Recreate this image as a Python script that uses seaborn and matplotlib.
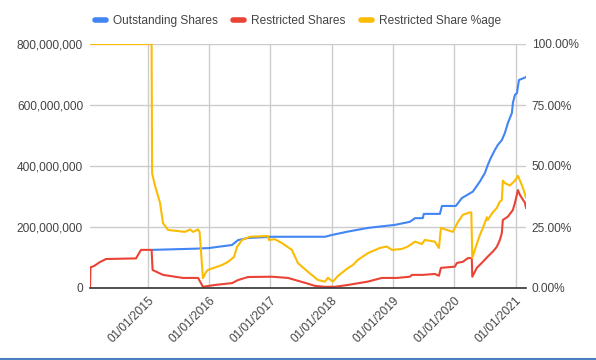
import matplotlib
matplotlib.use("Agg")
import matplotlib.pyplot as plt
import matplotlib.dates as mdates
from matplotlib.lines import Line2D
from matplotlib.ticker import FuncFormatter, MultipleLocator
import pandas as pd
import seaborn as sns

BLUE = "#4285F4"
RED = "#EA4335"
YELLOW = "#FBBC04"
TEXT = "#444444"

# Outstanding shares (millions)
outstanding_dates = [
    "2015-01-27", "2015-10-16", "2016-01-01", "2016-05-17", "2016-06-22",
    "2016-08-20", "2017-01-10", "2017-11-22", "2018-01-03", "2018-04-08",
    "2018-08-05", "2019-01-13", "2019-04-12", "2019-05-13", "2019-06-28",
    "2019-07-04", "2019-10-08", "2019-10-20", "2020-01-11", "2020-02-16",
    "2020-04-21", "2020-06-02", "2020-07-02", "2020-07-19", "2020-08-06",
    "2020-08-30", "2020-09-17", "2020-10-11", "2020-10-29", "2020-11-16",
    "2020-12-10", "2020-12-16", "2020-12-28", "2021-01-09", "2021-01-21",
    "2021-02-26", "2021-03-04",
]
outstanding_shares = [
    125, 129, 131, 141, 157,
    164, 168, 168, 174, 185,
    197, 207, 217, 229, 229,
    243, 243, 269, 269, 295,
    316, 349, 377, 403, 426,
    452, 469, 485, 508, 541,
    574, 607, 633, 639, 682,
    690, 692,
]

# Restricted shares (millions)
restricted_dates = [
    "2014-01-22", "2014-01-25", "2014-02-15", "2014-03-22", "2014-04-27",
    "2014-07-20", "2014-10-23", "2014-11-22", "2015-01-24", "2015-01-30",
    "2015-04-02", "2015-07-30", "2015-10-28", "2015-11-26", "2016-02-06",
    "2016-05-17", "2016-06-22", "2016-08-20", "2017-01-10", "2017-04-16",
    "2017-07-26", "2017-09-23", "2017-11-22", "2018-01-20", "2018-04-08",
    "2018-08-05", "2018-10-27", "2019-01-25", "2019-04-12", "2019-04-24",
    "2019-06-28", "2019-09-08", "2019-10-02", "2019-10-14", "2020-01-05",
    "2020-01-17", "2020-02-22", "2020-03-23", "2020-04-15", "2020-04-18",
    "2020-05-15", "2020-06-20", "2020-07-19", "2020-08-18", "2020-09-11",
    "2020-09-29", "2020-10-11", "2020-10-17", "2020-11-16", "2020-12-16",
    "2020-12-28", "2021-01-15", "2021-01-27", "2021-02-26", "2021-03-04",
]
restricted_shares = [
    0, 68, 72, 85, 95,
    96, 97, 125, 125, 59,
    43, 33, 33, 4, 10,
    16, 26, 36, 37, 33,
    17, 7, 4, 4, 10,
    21, 33, 33, 37, 43,
    43, 46, 40, 66, 70,
    82, 86, 98, 98, 37,
    66, 86, 103, 119, 135,
    157, 180, 223, 234, 256,
    279, 321, 305, 279, 262,
]

# Restricted share percentage
pct_dates = [
    "2014-01-22", "2015-01-24", "2015-01-27", "2015-02-13", "2015-03-15",
    "2015-04-02", "2015-05-02", "2015-08-11", "2015-09-10", "2015-09-28",
    "2015-10-28", "2015-11-06", "2015-11-26", "2015-12-14", "2015-12-26",
    "2016-03-18", "2016-04-23", "2016-05-29", "2016-06-16", "2016-07-16",
    "2016-09-01", "2016-12-17", "2016-12-23", "2017-01-28", "2017-03-11",
    "2017-05-09", "2017-06-14", "2017-08-13", "2017-10-11", "2017-11-22",
    "2017-12-10", "2018-01-08", "2018-02-07", "2018-04-08", "2018-05-07",
    "2018-06-06", "2018-08-05", "2018-10-15", "2018-11-26", "2018-12-26",
    "2019-02-23", "2019-03-31", "2019-05-13", "2019-06-22", "2019-07-10",
    "2019-09-08", "2019-10-02", "2019-10-14", "2019-12-24", "2020-01-23",
    "2020-02-22", "2020-04-03", "2020-04-12", "2020-04-18", "2020-05-03",
    "2020-06-02", "2020-06-20", "2020-07-14", "2020-07-19", "2020-08-18",
    "2020-09-11", "2020-09-29", "2020-10-11", "2020-10-17", "2020-10-29",
    "2020-11-28", "2020-12-28", "2021-01-15", "2021-01-27", "2021-02-14",
    "2021-03-04",
]
restricted_pct = [
    100, 100, 47, 42, 35,
    26.6, 23.8, 23, 24, 23,
    24, 23, 4, 6.5, 7.4,
    9.4, 10.7, 12.7, 16.8, 19.7,
    21, 21.3, 19.7, 20, 18.4,
    15.6, 10.2, 6.6, 3.3, 2.6,
    4.2, 2.6, 4.9, 8.2, 9.4,
    11.5, 14.3, 16.4, 17, 15.6,
    16, 17, 19, 18, 19.7,
    19, 16.4, 24.6, 23, 27,
    30, 31, 31, 12.3, 15.6,
    21.7, 24.6, 29, 27.9, 31,
    32.8, 35.4, 36, 44, 43,
    42, 44, 46, 44, 41,
    37,
]

shares_df = pd.concat([
    pd.DataFrame({"date": pd.to_datetime(outstanding_dates),
                  "shares": [v * 1e6 for v in outstanding_shares],
                  "series": "Outstanding Shares"}),
    pd.DataFrame({"date": pd.to_datetime(restricted_dates),
                  "shares": [v * 1e6 for v in restricted_shares],
                  "series": "Restricted Shares"}),
])
pct_df = pd.DataFrame({"date": pd.to_datetime(pct_dates),
                       "pct": [v / 100 for v in restricted_pct]})

sns.set_style("white")
plt.rcParams["font.family"] = ["Liberation Sans", "DejaVu Sans"]

fig = plt.figure(figsize=(5.96, 3.6), dpi=100)
ax = fig.add_axes([90 / 596, 1 - 288 / 360, 436 / 596, 244 / 360])

sns.lineplot(data=shares_df, x="date", y="shares", hue="series",
             palette=[BLUE, RED], estimator=None, sort=False,
             linewidth=1.5, legend=False, ax=ax)
ax2 = ax.twinx()
sns.lineplot(data=pct_df, x="date", y="pct", color=YELLOW,
             estimator=None, sort=False, linewidth=1.5, ax=ax2)

ax.set_xlim(pd.Timestamp("2014-01-22"), pd.Timestamp("2021-03-04"))
ax.set_ylim(0, 800e6)
ax2.set_ylim(0, 1)
ax.yaxis.set_major_locator(MultipleLocator(200e6))
ax2.yaxis.set_major_locator(MultipleLocator(0.25))
ax.yaxis.set_major_formatter(FuncFormatter(lambda v, _: f"{v:,.0f}"))
ax2.yaxis.set_major_formatter(FuncFormatter(lambda v, _: f"{v * 100:.2f}%"))
ax.xaxis.set_major_locator(mdates.YearLocator())
ax.xaxis.set_major_formatter(mdates.DateFormatter("%m/%d/%Y"))

ax.grid(True, color="#cccccc", linewidth=1)
ax.set_axisbelow(True)
for a in (ax, ax2):
    a.set(xlabel=None, ylabel=None)
    for side in ("top", "left", "right", "bottom"):
        a.spines[side].set_visible(False)
ax.spines["bottom"].set_visible(True)
ax.spines["bottom"].set_color("#333333")
ax.spines["bottom"].set_linewidth(1.2)

ax.tick_params(axis="y", length=0, pad=5, labelsize=8.6, labelcolor=TEXT)
ax2.tick_params(axis="y", length=0, pad=4, labelsize=8.6, labelcolor=TEXT)
ax.tick_params(axis="x", length=0, pad=5, labelsize=8.6, labelcolor=TEXT)
for lbl in ax.get_xticklabels():
    lbl.set_rotation(45)
    lbl.set_ha("right")
    lbl.set_rotation_mode("anchor")

handles = [
    Line2D([], [], color=BLUE, linewidth=4),
    Line2D([], [], color=RED, linewidth=4),
    Line2D([], [], color=YELLOW, linewidth=4),
]
fig.legend(handles, ["Outstanding Shares", "Restricted Shares", "Restricted Share %age"],
           loc="center", bbox_to_anchor=(0.5, 1 - 21 / 360), ncol=3,
           frameon=False, fontsize=8.6, handlelength=0.9, handletextpad=0.6,
           columnspacing=1.3, labelcolor=TEXT)

# bottom edge of the sheet window
fig.add_artist(Line2D([0, 1], [0.003, 0.003], color="#4a7fc1", linewidth=1.5,
                      transform=fig.transFigure))

fig.savefig("out.png", dpi=100)
